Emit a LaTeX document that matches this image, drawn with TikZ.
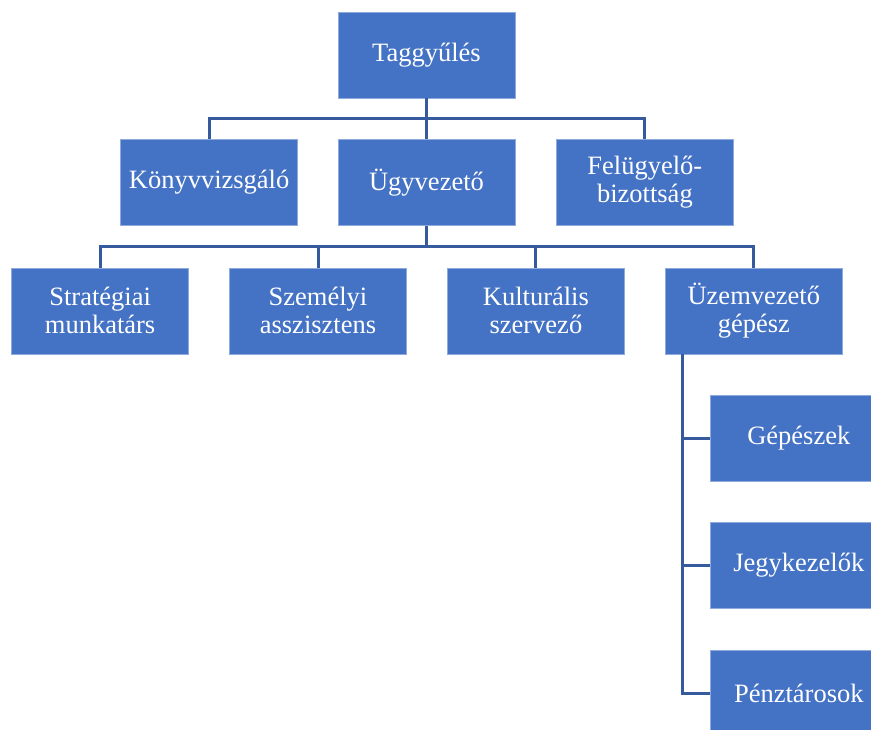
\documentclass[tikz,border=0pt]{standalone}
\usepackage{fontspec}
\setmainfont{Liberation Serif}
\usetikzlibrary{positioning}
\definecolor{box}{HTML}{4472C4}
\definecolor{boxline}{HTML}{8FAADC}
\definecolor{link}{HTML}{355A9E}
\tikzset{
    %Define style for boxes
    unit/.style={
   	rectangle,
   	draw=boxline, thin,
   	minimum width=177pt,
   	minimum height=86pt,
   	inner sep=2pt,
   	font=\fontsize{26.5}{28}\selectfont,
   	text=white,
   	align=center,
   	fill=box
   },
    % Define line style
    conn/.style={
           draw=link,
           line width=3pt}
}
\begin{document}
\begin{tikzpicture}[node distance=41pt]
		\useasboundingbox (0,0) rectangle (871pt,-730pt);
		\clip (0,0) rectangle (871pt,-730pt);
		\node[unit] (1) at (426.5pt,-55pt) {Taggyűlés};
		\node[unit, below=of 1] (2) {Ügyvezető};
		\node[unit, left=40pt of 2] (3) {Könyvvizsgáló};
		\node[unit, right=of 2] (4) {Felügyelő-\\bizottság};
		\node[unit, below=42pt of 2, xshift=-108.5pt] (5) {Személyi\\asszisztens};
		\node[unit, left=40.5pt of 5] (6) {Stratégiai\\munkatárs};
		\node[unit, right=40.5pt of 5] (7) {Kulturális\\szervező};
		\node[unit, right=40.5pt of 7] (8) {Üzemvezető\\gépész};
		\node[unit, below=of 8, xshift=45pt] (9) {Gépészek};
		\node[unit, below=of 9] (10) {Jegykezelők};
		\node[unit, below=of 10] (11) {Pénztárosok};
		\coordinate (b1) at ([yshift=-20pt]1.south);
		\coordinate (b2) at ([yshift=-21pt]2.south);
		\coordinate (b3) at ([xshift=17pt]8.south west);
		\draw[conn] (1.south) -- (b1) -| (3.north);
		\draw[conn] (b1) -- (2.north);
		\draw[conn] (b1) -| (4.north);
		\draw[conn] (2.south) -- (b2) -| (6.north);
		\draw[conn] (b2) -| (5.north);
		\draw[conn] (b2) -| (7.north);
		\draw[conn] (b2) -| (8.north);
		\draw[conn] (b3) |- (9.west);
		\draw[conn] (b3) |- (10.west);
		\draw[conn] (b3) |- (11.west);
		\end{tikzpicture}
\end{document}
